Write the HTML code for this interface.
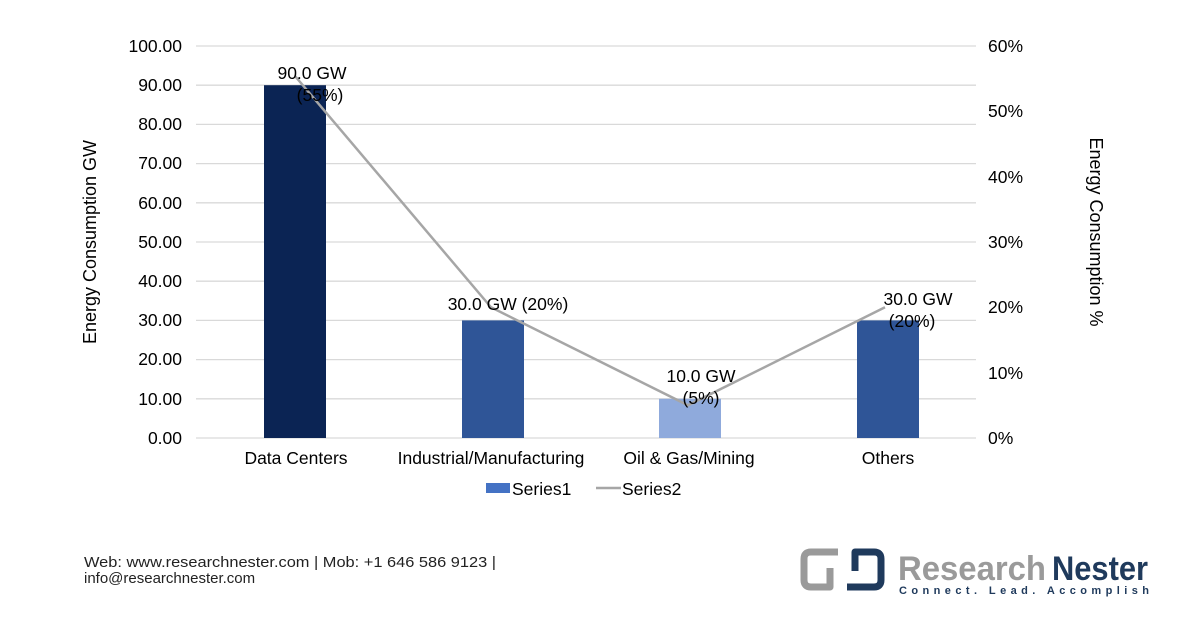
<!DOCTYPE html><html><head><style>body{margin:0;background:#fff}svg text{font-family:"Liberation Sans",Arial,sans-serif}</style></head><body>
<svg width="1200" height="628" viewBox="0 0 1200 628" xmlns="http://www.w3.org/2000/svg">
<g stroke="#d9d9d9" stroke-width="1.3">
<line x1="196" x2="976" y1="46" y2="46"/><line x1="196" x2="976" y1="85.2" y2="85.2"/><line x1="196" x2="976" y1="124.4" y2="124.4"/><line x1="196" x2="976" y1="163.6" y2="163.6"/><line x1="196" x2="976" y1="202.8" y2="202.8"/><line x1="196" x2="976" y1="242" y2="242"/><line x1="196" x2="976" y1="281.2" y2="281.2"/><line x1="196" x2="976" y1="320.4" y2="320.4"/><line x1="196" x2="976" y1="359.6" y2="359.6"/><line x1="196" x2="976" y1="398.8" y2="398.8"/><line x1="196" x2="976" y1="438" y2="438"/></g>
<g font-size="17.5" fill="#000" text-anchor="end">
<text x="182" y="52">100.00</text><text x="182" y="91">90.00</text><text x="182" y="130">80.00</text><text x="182" y="169">70.00</text><text x="182" y="209">60.00</text><text x="182" y="248">50.00</text><text x="182" y="287">40.00</text><text x="182" y="326">30.00</text><text x="182" y="365">20.00</text><text x="182" y="405">10.00</text><text x="182" y="444">0.00</text></g>
<g font-size="17.5" fill="#000" text-anchor="start">
<text x="988" y="52">60%</text><text x="988" y="117">50%</text><text x="988" y="183">40%</text><text x="988" y="248">30%</text><text x="988" y="313">20%</text><text x="988" y="379">10%</text><text x="988" y="444">0%</text></g>
<text font-size="18" transform="translate(96,242) rotate(-90)" text-anchor="middle">Energy Consumption GW</text>
<text font-size="18" transform="translate(1090,232) rotate(90)" text-anchor="middle">Energy Consumption %</text>
<rect x="264" y="85.2" width="62" height="352.8" fill="#0b2454"/>
<rect x="462" y="320.4" width="62" height="117.6" fill="#2f5597"/>
<rect x="659" y="398.8" width="62" height="39.2" fill="#8faadc"/>
<rect x="857" y="320.4" width="62" height="117.6" fill="#2f5597"/>
<polyline points="295,76 491,307.3 688,405.3 885,307.3" fill="none" stroke="#a6a6a6" stroke-width="2.5"/>
<g font-size="17.5" text-anchor="middle" fill="#000">
<text x="312" y="79">90.0 GW</text><text x="320" y="101">(55%)</text>
<text x="508" y="310">30.0 GW (20%)</text>
<text x="701" y="382">10.0 GW</text><text x="701" y="404">(5%)</text>
<text x="918" y="305">30.0 GW</text><text x="912" y="327">(20%)</text>
<text x="296" y="464">Data Centers</text><text x="491" y="464">Industrial/Manufacturing</text><text x="689" y="464">Oil &amp; Gas/Mining</text><text x="888" y="464">Others</text></g>
<rect x="486" y="483" width="24" height="10" fill="#4472c4"/>
<text x="512" y="495" font-size="17.5">Series1</text>
<line x1="596" x2="621" y1="488" y2="488" stroke="#a6a6a6" stroke-width="2.5"/>
<text x="622" y="495" font-size="17.5">Series2</text>
<text x="84" y="567" font-size="15" fill="#222" textLength="412" lengthAdjust="spacingAndGlyphs">Web: www.researchnester.com | Mob: +1 646 586 9123 |</text>
<text x="84" y="583" font-size="15" fill="#222">info@researchnester.com</text>
<g fill="none" stroke-width="7" stroke-linejoin="round">
<path d="M838 552 H811 Q804 552 804 559 V580 Q804 587 811 587 H830 V568" stroke="#9a9a9a"/>
<path d="M847 587 H874 Q881 587 881 580 V559 Q881 552 874 552 H855 V571" stroke="#1f3a5c"/>
</g>
<text x="898" y="580" font-size="34" font-weight="bold" fill="#9a9a9a" textLength="148" lengthAdjust="spacingAndGlyphs">Research</text>
<text x="1052" y="580" font-size="34" font-weight="bold" fill="#1f3a5c" textLength="96" lengthAdjust="spacingAndGlyphs">Nester</text>
<text x="899" y="594" font-size="11" font-weight="bold" fill="#1f3a5c" textLength="250" lengthAdjust="spacing">Connect. Lead. Accomplish</text>
</svg></body></html>
